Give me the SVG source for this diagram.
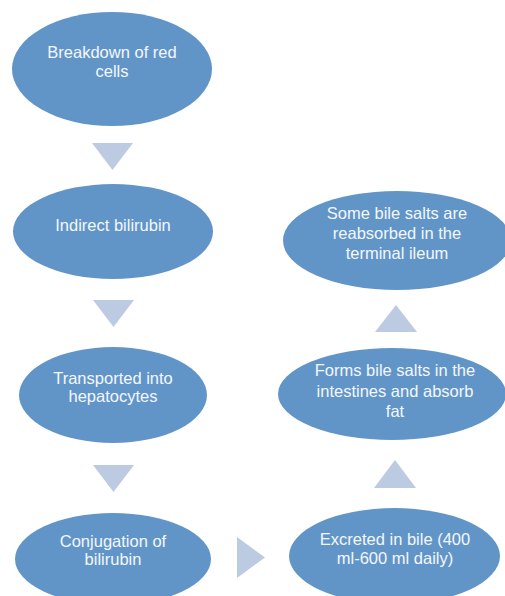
<svg xmlns="http://www.w3.org/2000/svg" width="505" height="596" viewBox="0 0 505 596">
<style>
.node ellipse{fill:#6195c8;}
.node text{fill:#f4f7fb;font-family:"Liberation Sans",Arial,sans-serif;font-size:16.5px;text-anchor:middle;}
.arrow{fill:#bccbe2;}
</style>
<rect width="505" height="596" fill="#ffffff"/>
<g id="connectors">
<polygon class="arrow" points="92,143 133,143 112.5,170"/>
<polygon class="arrow" points="93,300 134,300 113.5,327"/>
<polygon class="arrow" points="93,465 134,465 113.5,492"/>
<polygon class="arrow" points="237,537 237,578 265,557.5"/>
<polygon class="arrow" points="374,488 416,488 395,460"/>
<polygon class="arrow" points="375,332 417,332 396,305"/>
</g>
<g id="n1" class="node"><ellipse cx="112" cy="69" rx="100" ry="57"/><text x="112" y="58">Breakdown of red</text><text x="112" y="77">cells</text></g>
<g id="n2" class="node"><ellipse cx="113" cy="231.5" rx="100" ry="47.5"/><text x="113" y="231">Indirect bilirubin</text></g>
<g id="n3" class="node"><ellipse cx="113" cy="395" rx="94" ry="48"/><text x="113" y="384">Transported into</text><text x="113" y="402">hepatocytes</text></g>
<g id="n4" class="node"><ellipse cx="113" cy="559" rx="98" ry="46"/><text x="113" y="547">Conjugation of</text><text x="113" y="565">bilirubin</text></g>
<g id="n5" class="node"><ellipse cx="394.5" cy="556" rx="105.5" ry="48"/><text x="395" y="545">Excreted in bile (400</text><text x="395" y="564">ml-600 ml daily)</text></g>
<g id="n6" class="node"><ellipse cx="392" cy="394" rx="114" ry="46"/><text x="395" y="376">Forms bile salts in the</text><text x="395" y="397">intestines and absorb</text><text x="395" y="417">fat</text></g>
<g id="n7" class="node"><ellipse cx="397" cy="240.5" rx="114" ry="49.5"/><text x="397" y="219">Some bile salts are</text><text x="397" y="239">reabsorbed in the</text><text x="397" y="259">terminal ileum</text></g>
</svg>
